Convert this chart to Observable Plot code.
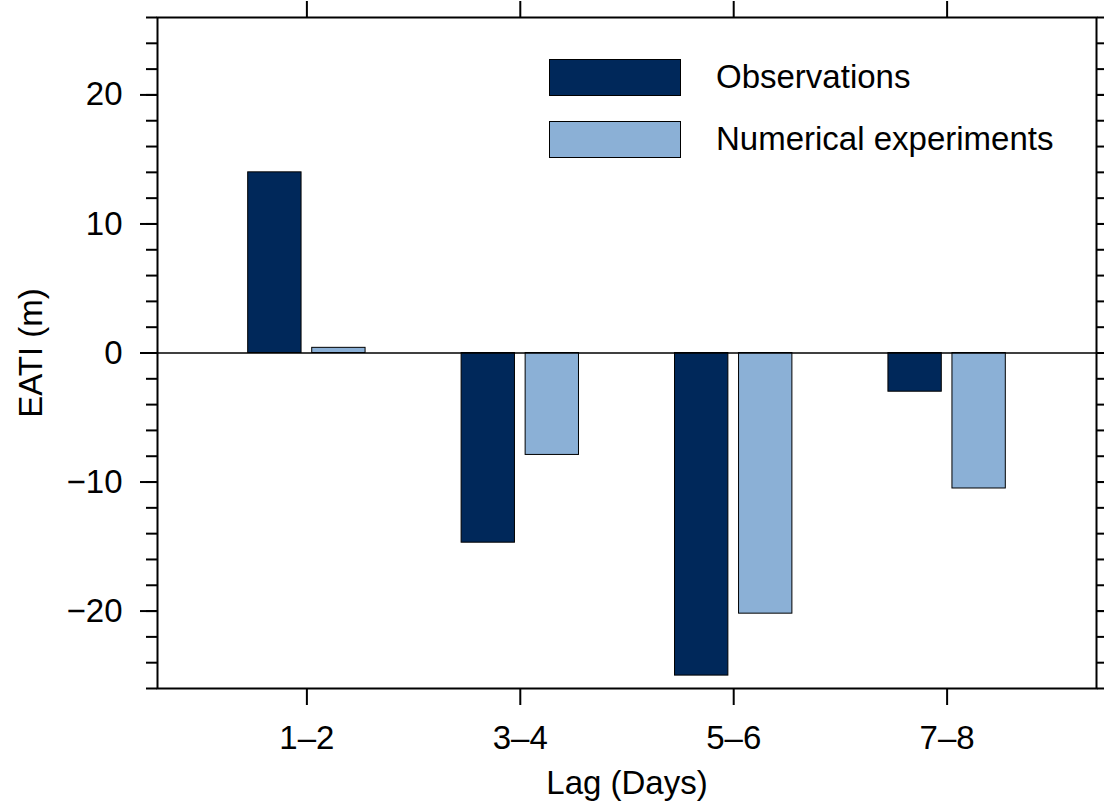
<!DOCTYPE html>
<html>
<head>
<meta charset="utf-8">
<script src="https://cdn.jsdelivr.net/npm/d3@7"></script>
<script src="https://cdn.jsdelivr.net/npm/@observablehq/plot@0.6"></script>
<style>
  html, body { margin: 0; padding: 0; background: #fff; overflow: hidden; }
  #wrap { position: relative; width: 1104px; height: 801px; font-family: "Liberation Sans", Arial, Helvetica, sans-serif; }
  .legend-item { position: absolute; display: flex; align-items: center; font-size: 33px; color: #000; }
  .legend-swatch { width: 132px; height: 37px; border: 1px solid #000; box-sizing: border-box; margin-right: 35px; }
</style>
</head>
<body>
<div id="wrap"></div>
<script>
// ---- data ----
const lagLabels = ["1–2", "3–4", "5–6", "7–8"];
const lagPositions = [1, 2, 3, 4];
const observations = [14.0, -14.7, -25.0, -3.0];
const experiments = [0.4, -7.9, -20.2, -10.5];
const seriesNames = ["Observations", "Numerical experiments"];
const seriesColors = ["#00285A", "#8BB0D6"];
const yMajorTicks = [-20, -10, 0, 10, 20];
const yMinorTicks = [-26, -24, -22, -20, -18, -16, -14, -12, -10, -8, -6, -4, -2, 0, 2, 4, 6, 8, 10, 12, 14, 16, 18, 20, 22, 24, 26];

// ---- layout constants ----
const barOffset = 0.15;
const barHalf = 0.125;
const font = '"Liberation Sans", Arial, Helvetica, sans-serif';
const fs = 33;

const rows = [];
[observations, experiments].forEach((vals, s) => {
  vals.forEach((v, i) => {
    rows.push({lag: lagPositions[i], series: seriesNames[s], value: v, off: s === 0 ? -barOffset : barOffset});
  });
});

const fmtLag = d => lagLabels[lagPositions.indexOf(d)];

const chart = Plot.plot({
  width: 1104,
  height: 801,
  marginLeft: 157,
  marginRight: 8,
  marginTop: 17,
  marginBottom: 113,
  style: {fontFamily: font, background: "#fff", color: "#000"},
  x: {type: "linear", domain: [0.3, 4.7], axis: null},
  y: {domain: [-26, 26], axis: null},
  color: {domain: seriesNames, range: seriesColors},
  marks: [
    Plot.rectY(rows, {
      x1: d => d.lag + d.off - barHalf,
      x2: d => d.lag + d.off + barHalf,
      y1: 0,
      y2: "value",
      fill: "series",
      stroke: "#000",
      strokeWidth: 1
    }),
    Plot.ruleY([0], {stroke: "#000", strokeWidth: 1.3}),
    // left axis
    Plot.axisY(yMinorTicks, {anchor: "left", tickSize: 11, strokeWidth: 2, tickFormat: () => "", label: null}),
    Plot.axisY(yMajorTicks, {anchor: "left", tickSize: 17, tickPadding: 18, strokeWidth: 2, fontSize: fs, label: null}),
    // right axis
    Plot.axisY(yMinorTicks, {anchor: "right", tickSize: 11, strokeWidth: 2, tickFormat: () => "", label: null}),
    Plot.axisY(yMajorTicks, {anchor: "right", tickSize: 17, strokeWidth: 2, tickFormat: () => "", label: null}),
    // bottom / top axes
    Plot.axisX(lagPositions, {anchor: "bottom", tickSize: 17, tickPadding: 20, strokeWidth: 2, fontSize: fs, tickFormat: fmtLag, label: null}),
    Plot.axisX(lagPositions, {anchor: "top", tickSize: 17, strokeWidth: 2, tickFormat: () => "", label: null}),
    Plot.frame({stroke: "#000", strokeWidth: 2}),
    // axis titles
    Plot.text(["EATI (m)"], {frameAnchor: "left", dx: -126, rotate: -90, fontSize: fs, fill: "#000", textAnchor: "middle"}),
    Plot.text(["Lag (Days)"], {frameAnchor: "bottom", dy: 95, fontSize: fs, fill: "#000", lineAnchor: "middle"})
  ]
});

const wrap = document.getElementById("wrap");
wrap.appendChild(chart);

// legend (inside the plot area, upper right)
const legendTops = [58, 120];
seriesNames.forEach((name, i) => {
  const item = document.createElement("div");
  item.className = "legend-item";
  item.style.left = "549px";
  item.style.top = legendTops[i] + "px";
  const sw = document.createElement("div");
  sw.className = "legend-swatch";
  sw.style.background = seriesColors[i];
  const label = document.createElement("span");
  label.textContent = name;
  item.appendChild(sw);
  item.appendChild(label);
  wrap.appendChild(item);
});
</script>
</body>
</html>
